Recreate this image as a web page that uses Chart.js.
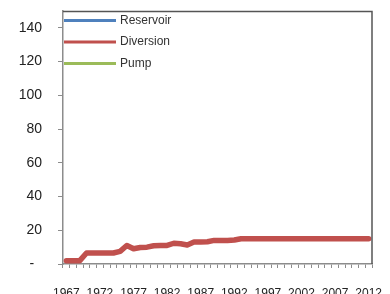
<!DOCTYPE html>
<html>
<head>
    <title>Reservoir, Diversion, Pump</title>
    <script src="https://cdn.jsdelivr.net/npm/chart.js"></script>
    <style>
        body {
            margin: 0;
            overflow: hidden;
            background: #fff;
        }
    </style>
</head>
<body>
    <canvas id="waterChart" width="390" height="300"></canvas>

    <script>
        const years = [1967, 1968, 1969, 1970, 1971, 1972, 1973, 1974, 1975, 1976,
                       1977, 1978, 1979, 1980, 1981, 1982, 1983, 1984, 1985, 1986,
                       1987, 1988, 1989, 1990, 1991, 1992, 1993, 1994, 1995, 1996,
                       1997, 1998, 1999, 2000, 2001, 2002, 2003, 2004, 2005, 2006,
                       2007, 2008, 2009, 2010, 2011, 2012];
        const reservoir = [];
        const diversion = [2, 2, 2, 6.5, 6.5, 6.5, 6.5, 6.5, 7.5, 11,
                           9, 9.8, 10, 10.8, 11, 11, 12.3, 12, 11.3, 13,
                           13, 13.2, 14, 14, 14, 14.2, 15, 15, 15, 15,
                           15, 15, 15, 15, 15, 15, 15, 15, 15, 15,
                           15, 15, 15, 15, 15, 15];
        const pump = [];
        const yTicks = [0, 20, 40, 60, 80, 100, 120, 140];

        const axisGray = '#8c8c8c';
        const textColor = '#222222';
        const fontFamily = '"Liberation Sans", Arial, sans-serif';

        // frame on top/right + legend drawn inside the plot, like the Excel original
        const framePlugin = {
            id: 'frame',
            afterDraw(chart) {
                const ctx = chart.ctx;
                const a = chart.chartArea;
                ctx.save();
                ctx.strokeStyle = '#555555';
                ctx.lineWidth = 1.5;
                ctx.beginPath();
                ctx.moveTo(a.left, a.top + 0.5);
                ctx.lineTo(a.right, a.top + 0.5);
                ctx.lineTo(a.right, a.bottom);
                ctx.stroke();

                const rows = [20.5, 42, 63.5];
                chart.data.datasets.forEach((ds, i) => {
                    const y = rows[i];
                    ctx.strokeStyle = ds.borderColor;
                    ctx.lineWidth = 3;
                    ctx.beginPath();
                    ctx.moveTo(a.left + 1, y);
                    ctx.lineTo(a.left + 53, y);
                    ctx.stroke();
                    ctx.fillStyle = '#333333';
                    ctx.font = '12px ' + fontFamily;
                    ctx.textBaseline = 'middle';
                    ctx.textAlign = 'left';
                    ctx.fillText(ds.label, a.left + 57, y);
                });
                ctx.restore();
            }
        };

        const ctx = document.getElementById('waterChart').getContext('2d');
        new Chart(ctx, {
            type: 'line',
            data: {
                labels: years,
                datasets: [
                    { label: 'Reservoir', data: reservoir, borderColor: '#4F81BD' },
                    { label: 'Diversion', data: diversion, borderColor: '#C0504D' },
                    { label: 'Pump', data: pump, borderColor: '#9BBB59' }
                ]
            },
            options: {
                responsive: false,
                animation: false,
                layout: { padding: { top: 11, right: 18, left: 0, bottom: 0 } },
                elements: {
                    line: { borderWidth: 5.5, tension: 0, borderJoinStyle: 'round', borderCapStyle: 'round' },
                    point: { radius: 0 }
                },
                plugins: {
                    legend: { display: false },
                    tooltip: { enabled: false }
                },
                scales: {
                    x: {
                        offset: true,
                        grid: { offset: true, drawOnChartArea: false, color: axisGray, tickLength: 4 },
                        border: { color: axisGray, width: 1.5 },
                        ticks: {
                            autoSkip: false,
                            maxRotation: 0,
                            padding: 18,
                            color: textColor,
                            font: { family: fontFamily, size: 12 },
                            callback: function (value, index) {
                                return index % 5 === 0 ? years[index] : '';
                            }
                        },
                        afterFit(scale) {
                            scale.height = 36;
                            scale.paddingLeft = 0;
                            scale.paddingRight = 0;
                        }
                    },
                    y: {
                        min: 0,
                        max: 150,
                        grid: { drawOnChartArea: false, color: axisGray, tickLength: 5 },
                        border: { color: axisGray, width: 1.5 },
                        afterBuildTicks(scale) {
                            scale.ticks = yTicks.map(v => ({ value: v }));
                        },
                        ticks: {
                            padding: 16,
                            color: textColor,
                            font: { family: fontFamily, size: 14 },
                            callback: function (value) {
                                return value === 0 ? '-  ' : value;
                            }
                        },
                        afterFit(scale) {
                            scale.width = 63;
                            scale.paddingTop = 0;
                            scale.paddingBottom = 0;
                        }
                    }
                }
            },
            plugins: [framePlugin]
        });
    </script>
</body>
</html>
